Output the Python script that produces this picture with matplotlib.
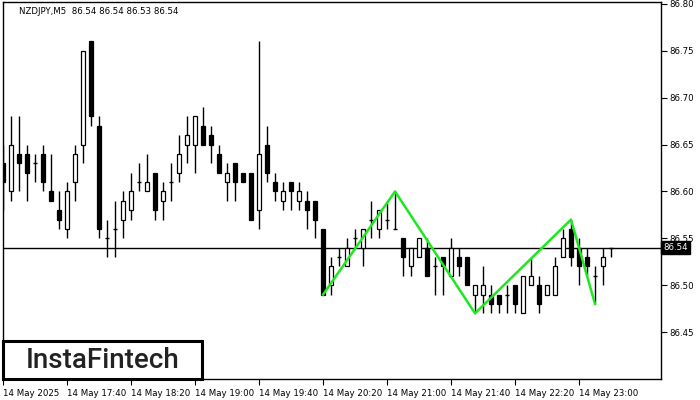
import matplotlib
matplotlib.use("Agg")
import matplotlib.pyplot as plt
import matplotlib.transforms as mtransforms
from matplotlib.patches import Rectangle
import numpy as np

# candle data, NZDJPY M5, one entry per bar
opens = [86.63, 86.60, 86.64, 86.64, 86.63, 86.64, 86.60, 86.58, 86.56, 86.61,
         86.65, 86.76, 86.67, 86.55, 86.56, 86.57, 86.58, 86.61, 86.60, 86.62,
         86.59, 86.61, 86.62, 86.65, 86.65, 86.67, 86.66, 86.64, 86.61, 86.63,
         86.62, 86.62, 86.58, 86.65, 86.61, 86.59, 86.61, 86.59, 86.59, 86.59,
         86.56, 86.50, 86.53, 86.52, 86.55, 86.54, 86.57, 86.56, 86.57, 86.56,
         86.55, 86.52, 86.53, 86.54, 86.52, 86.53, 86.51, 86.53, 86.53, 86.49,
         86.49, 86.49, 86.49, 86.49, 86.50, 86.47, 86.50, 86.50, 86.49, 86.49,
         86.53, 86.56, 86.54, 86.53, 86.51, 86.52, 86.54]
highs = [86.65, 86.68, 86.68, 86.65, 86.64, 86.65, 86.64, 86.60, 86.61, 86.65,
         86.75, 86.76, 86.68, 86.57, 86.59, 86.60, 86.62, 86.63, 86.64, 86.62,
         86.61, 86.63, 86.66, 86.68, 86.68, 86.69, 86.67, 86.65, 86.63, 86.63,
         86.62, 86.62, 86.76, 86.67, 86.62, 86.61, 86.61, 86.61, 86.60, 86.59,
         86.56, 86.53, 86.54, 86.55, 86.56, 86.56, 86.59, 86.58, 86.59, 86.60,
         86.55, 86.54, 86.55, 86.55, 86.53, 86.53, 86.55, 86.54, 86.53, 86.50,
         86.52, 86.50, 86.49, 86.50, 86.50, 86.51, 86.53, 86.51, 86.50, 86.53,
         86.56, 86.57, 86.55, 86.54, 86.52, 86.54, 86.54]
lows = [86.58, 86.59, 86.60, 86.59, 86.61, 86.60, 86.59, 86.56, 86.55, 86.59,
        86.63, 86.67, 86.55, 86.53, 86.53, 86.55, 86.57, 86.60, 86.60, 86.57,
        86.57, 86.59, 86.61, 86.63, 86.62, 86.65, 86.63, 86.62, 86.59, 86.59,
        86.61, 86.57, 86.56, 86.61, 86.59, 86.58, 86.58, 86.58, 86.56, 86.55,
        86.49, 86.49, 86.52, 86.52, 86.54, 86.52, 86.55, 86.55, 86.56, 86.56,
        86.51, 86.51, 86.53, 86.51, 86.49, 86.49, 86.51, 86.51, 86.50, 86.47,
        86.47, 86.47, 86.47, 86.47, 86.47, 86.47, 86.50, 86.47, 86.49, 86.49,
        86.53, 86.52, 86.50, 86.51, 86.48, 86.50, 86.53]
closes = [86.61, 86.65, 86.63, 86.62, 86.63, 86.61, 86.59, 86.57, 86.60, 86.64,
          86.75, 86.68, 86.56, 86.55, 86.56, 86.59, 86.60, 86.61, 86.61, 86.58,
          86.60, 86.61, 86.64, 86.66, 86.68, 86.65, 86.65, 86.62, 86.62, 86.61,
          86.61, 86.57, 86.64, 86.62, 86.60, 86.60, 86.60, 86.60, 86.58, 86.57,
          86.49, 86.52, 86.53, 86.54, 86.55, 86.56, 86.57, 86.58, 86.57, 86.56,
          86.53, 86.54, 86.55, 86.51, 86.52, 86.52, 86.54, 86.52, 86.50, 86.50,
          86.50, 86.48, 86.48, 86.49, 86.48, 86.51, 86.51, 86.48, 86.50, 86.52,
          86.55, 86.53, 86.52, 86.52, 86.51, 86.53, 86.54]

tick_bars = [0, 8, 16, 24, 32, 40, 48, 56, 64, 72]
tick_labels = ["14 May 2025", "14 May 17:40", "14 May 18:20", "14 May 19:00",
               "14 May 19:40", "14 May 20:20", "14 May 21:00", "14 May 21:40",
               "14 May 22:20", "14 May 23:00"]
price_ticks = [86.45, 86.50, 86.55, 86.60, 86.65, 86.70, 86.75, 86.80]

# pattern (double bottom style zigzag)
pattern_bars = [40, 49, 59, 71, 74]
pattern_prices = [86.49, 86.60, 86.47, 86.57, 86.48]

last_price = 86.54
title = "NZDJPY,M5  86.54 86.54 86.53 86.54"

FS = 6.2

fig = plt.figure(figsize=(7, 4), dpi=100)
ax = fig.add_axes([2.7 / 700, 21 / 400, 658.3 / 700, 377 / 400])

x = np.arange(len(opens))
o = np.array(opens)
h = np.array(highs)
l = np.array(lows)
c = np.array(closes)
w = 0.55

ax.vlines(x, l, h, color='black', lw=1, zorder=2)
up = c > o
dn = c < o
eq = c == o
ax.bar(x[up], (c - o)[up], bottom=o[up], width=w, facecolor='white',
       edgecolor='black', lw=0.9, zorder=3)
ax.bar(x[dn], (o - c)[dn], bottom=c[dn], width=w, facecolor='black',
       edgecolor='black', lw=0.9, zorder=3)
ax.hlines(o[eq], x[eq] - w / 2, x[eq] + w / 2, color='black', lw=1, zorder=3)

ax.axhline(last_price, color='black', lw=1, zorder=1)
ax.plot(pattern_bars, pattern_prices, color='#1ee81e', lw=1.8, zorder=4)

ax.set_xlim(-0.05, 82.25)
ax.set_ylim(86.400, 86.802)

ax.set_xticks(tick_bars)
ax.set_xticklabels(tick_labels, fontsize=FS, ha='left')
ax.yaxis.tick_right()
ax.set_yticks(price_ticks)
ax.set_yticklabels(["%.2f" % p for p in price_ticks], fontsize=FS)
ax.tick_params(axis='both', direction='out', length=4, width=0.8, pad=2, colors='black')
ax.tick_params(axis='x', pad=3)
for sp in ax.spines.values():
    sp.set_color('black')
    sp.set_linewidth(1)

# current price box on the right axis
trans = mtransforms.blended_transform_factory(ax.transAxes, ax.transData)
ax.text(1.004, last_price, "%.2f" % last_price, transform=trans, fontsize=FS,
        color='white', va='center', ha='left', zorder=6,
        bbox=dict(boxstyle='square,pad=0.25', facecolor='black', edgecolor='black'))

ax.text(16 / 658.3, 1 - 9 / 377, title, transform=ax.transAxes, fontsize=FS,
        color='black', va='center', ha='left')

# watermark
ax.add_patch(Rectangle((0, 0), 199 / 658.3, 38.5 / 377, transform=ax.transAxes,
                       facecolor='white', edgecolor='black', lw=2.2, zorder=7,
                       clip_on=False))
ax.text(100 / 658.3, 19 / 377, "InstaFintech", transform=ax.transAxes,
        fontsize=20, family='Roboto', fontweight='medium', color='#222222',
        ha='center', va='center', zorder=8)

plt.savefig("out.png", dpi=100)
